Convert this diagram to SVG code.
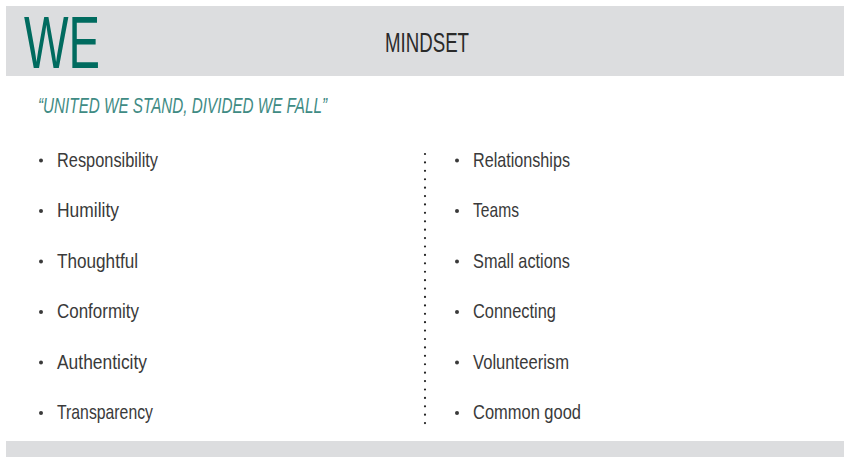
<svg xmlns="http://www.w3.org/2000/svg" width="844" height="457" viewBox="0 0 844 457">
<style>
.band{fill:#dcdddf}
.item{font-family:"Liberation Sans",Arial,sans-serif;font-size:21px;fill:#3a3a3a}
.bul{fill:#3a3a3a}
</style>
<rect width="844" height="457" fill="#ffffff"/>
<g id="header">
<rect class="band" x="6" y="6" width="838" height="70"/>
<text x="24" y="68" font-family="Liberation Sans,Arial,sans-serif" font-size="74" fill="#006b5f" textLength="76" lengthAdjust="spacingAndGlyphs">WE</text>
<text x="385" y="52" font-family="Liberation Sans,Arial,sans-serif" font-size="28" fill="#2a2a2a" textLength="84" lengthAdjust="spacingAndGlyphs">MINDSET</text>
</g>
<g id="quote">
<text x="38" y="113" font-family="Liberation Sans,Arial,sans-serif" font-size="22" font-style="italic" fill="#3f8b84" textLength="289" lengthAdjust="spacingAndGlyphs">“UNITED WE STAND, DIVIDED WE FALL”</text>
</g>
<g id="divider">
<line x1="425" y1="154" x2="425" y2="424" stroke="#222" stroke-width="2.2" stroke-linecap="round" stroke-dasharray="0 8.41"/>
</g>
<g id="left-list">
<g id="item-responsibility"><circle class="bul" cx="41" cy="160.5" r="2"/><text class="item" x="57" y="167" textLength="101" lengthAdjust="spacingAndGlyphs">Responsibility</text></g>
<g id="item-humility"><circle class="bul" cx="41" cy="211" r="2"/><text class="item" x="57" y="217" textLength="62" lengthAdjust="spacingAndGlyphs">Humility</text></g>
<g id="item-thoughtful"><circle class="bul" cx="41" cy="261.5" r="2"/><text class="item" x="57" y="268" textLength="81" lengthAdjust="spacingAndGlyphs">Thoughtful</text></g>
<g id="item-conformity"><circle class="bul" cx="41" cy="312" r="2"/><text class="item" x="57" y="318" textLength="82" lengthAdjust="spacingAndGlyphs">Conformity</text></g>
<g id="item-authenticity"><circle class="bul" cx="41" cy="362.5" r="2"/><text class="item" x="57" y="368.5" textLength="90" lengthAdjust="spacingAndGlyphs">Authenticity</text></g>
<g id="item-transparency"><circle class="bul" cx="41" cy="413" r="2"/><text class="item" x="57" y="419" textLength="96" lengthAdjust="spacingAndGlyphs">Transparency</text></g>
</g>
<g id="right-list">
<g id="item-relationships"><circle class="bul" cx="457" cy="160.5" r="2"/><text class="item" x="473" y="167" textLength="97" lengthAdjust="spacingAndGlyphs">Relationships</text></g>
<g id="item-teams"><circle class="bul" cx="457" cy="211" r="2"/><text class="item" x="473" y="217" textLength="46" lengthAdjust="spacingAndGlyphs">Teams</text></g>
<g id="item-small-actions"><circle class="bul" cx="457" cy="261.5" r="2"/><text class="item" x="473" y="268" textLength="97" lengthAdjust="spacingAndGlyphs">Small actions</text></g>
<g id="item-connecting"><circle class="bul" cx="457" cy="312" r="2"/><text class="item" x="473" y="318" textLength="83" lengthAdjust="spacingAndGlyphs">Connecting</text></g>
<g id="item-volunteerism"><circle class="bul" cx="457" cy="362.5" r="2"/><text class="item" x="473" y="368.5" textLength="96" lengthAdjust="spacingAndGlyphs">Volunteerism</text></g>
<g id="item-common-good"><circle class="bul" cx="457" cy="413" r="2"/><text class="item" x="473" y="419" textLength="108" lengthAdjust="spacingAndGlyphs">Common good</text></g>
</g>
<g id="footer">
<rect class="band" x="6" y="441" width="838" height="16"/>
</g>
</svg>
